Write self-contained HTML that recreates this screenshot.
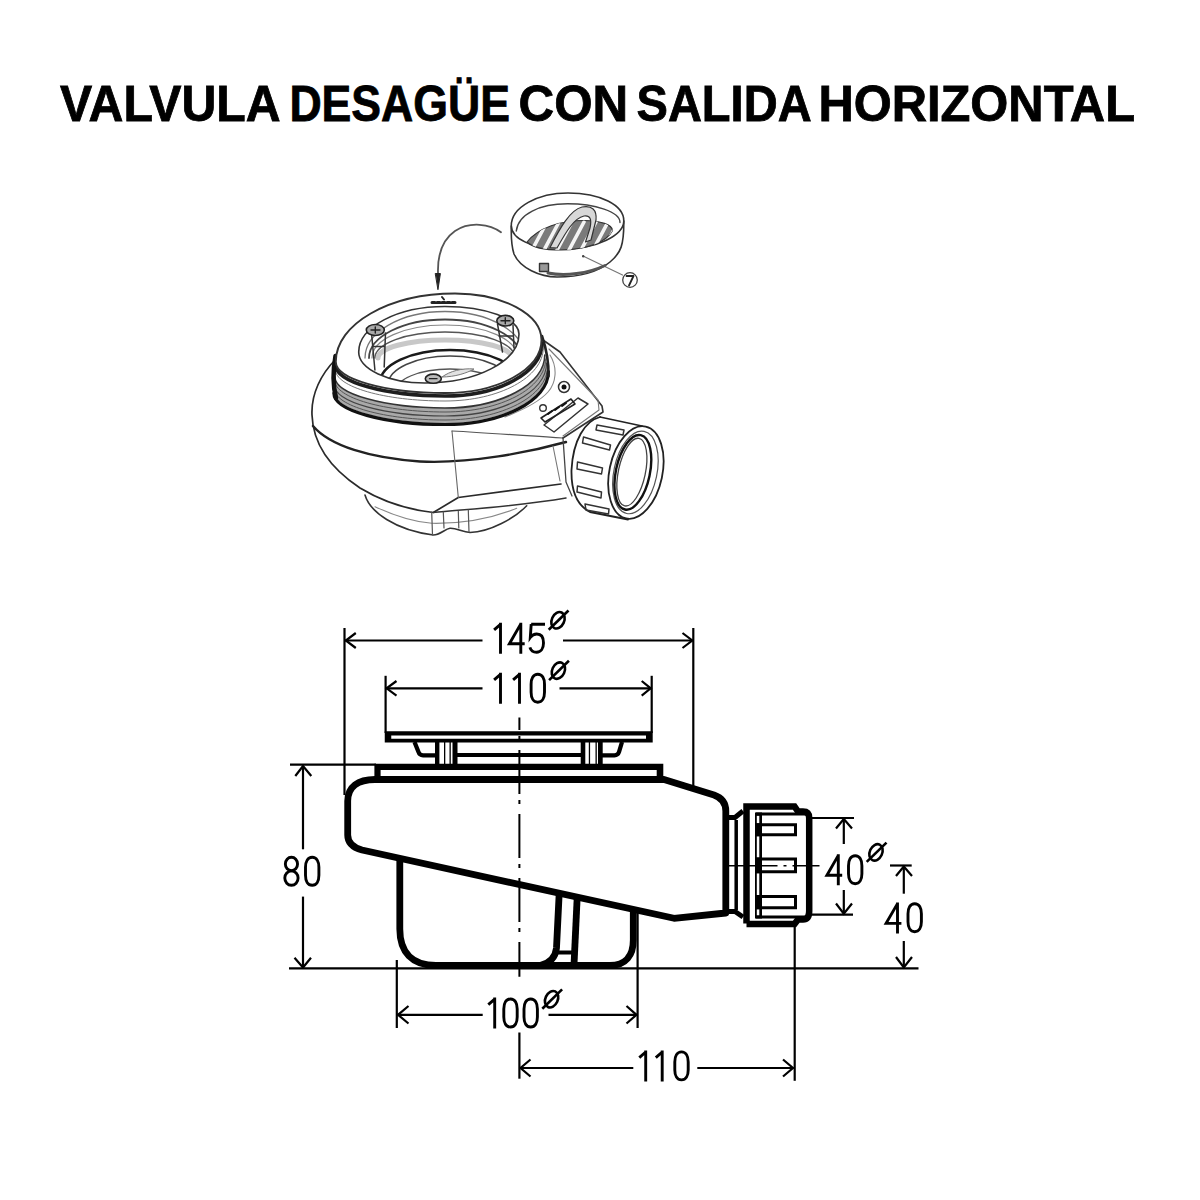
<!DOCTYPE html>
<html><head><meta charset="utf-8">
<style>
html,body{margin:0;padding:0;background:#fff;width:1200px;height:1200px;overflow:hidden}
svg{display:block}
.t{font-family:"Liberation Sans",sans-serif}
</style></head><body>
<svg width="1200" height="1200" viewBox="0 0 1200 1200">
<rect width="1200" height="1200" fill="#fff"/>
<!-- TITLE -->
<g class="t" font-size="49.5" font-weight="bold" fill="#000" stroke="#000" stroke-width="0.8">
<text x="60.00" y="120.8" textLength="220.6" lengthAdjust="spacingAndGlyphs">VALVULA</text>
<text x="289.40" y="120.8" textLength="220.6" lengthAdjust="spacingAndGlyphs">DESAGÜE</text>
<text x="518.50" y="120.8" textLength="109.7" lengthAdjust="spacingAndGlyphs">CON</text>
<text x="636.50" y="120.8" textLength="175.1" lengthAdjust="spacingAndGlyphs">SALIDA</text>
<text x="818.40" y="120.8" textLength="316.6" lengthAdjust="spacingAndGlyphs">HORIZONTAL</text>
</g>

<!-- TOP DRAWING -->
<g id="top" fill="none" stroke="#2a2a2a" stroke-width="1.5" stroke-linecap="round" stroke-linejoin="round">
 <!-- curved arrow -->
 <path d="M501,232.2 C490,224 470,221 455,231 C442,240 437.5,255 438,273" stroke="#555" stroke-width="1.8"/>
 <path d="M435.6,273.5 L440.4,273.5 L438,289.3 Z" fill="#222" stroke="#222" stroke-width="1"/>
 <!-- strainer cup -->
 <path d="M511.3,226 C511,207 538,193 568,193 C600,193 624,205 623.8,221 C623.6,235 598,249 562,249 C533,249 511.5,239 511.3,226 Z" stroke="#333" stroke-width="1.6"/>
 <path d="M516.3,231 C518,214 540,203.8 567.5,203.8 C595,203.8 620,212 620,222.5" stroke="#444" stroke-width="1.4"/>
 <path d="M511.3,226 C511,238 512,248 514,254 C520,268 540,277 557,277 C578,277 598,272 610,262 C621,253 624,245 623.8,221" stroke="#333" stroke-width="1.6"/>
 <!-- strainer bars -->
 <defs><clipPath id="grate"><path d="M527,242 C538,228 560,220.5 584,220.5 C601,220.5 612,225 612.5,230.5 C607,242 586,250 561,250 C545,250 532,247 527,242 Z"/></clipPath></defs>
 <path d="M527,242 C538,228 560,220.5 584,220.5 C601,220.5 612,225 612.5,230.5 C607,242 586,250 561,250 C545,250 532,247 527,242 Z" fill="#7a7a7a" stroke="#333" stroke-width="1.2"/>
 <g clip-path="url(#grate)" stroke="#f4f4f4" stroke-width="3.6">
  <path d="M531,252 L547,222"/><path d="M543,252 L559,222"/><path d="M556,252 L572,222"/><path d="M568,252 L584,222"/>
  <path d="M580,252 L596,222"/><path d="M592,252 L608,222"/><path d="M603,250 L617,224"/>
 </g>
 <path d="M549.9,247.7 C560,228 570,210 582,207 C592,205 597,210 596,220 L591,240 L585.5,242 L590,228 C592,219 590,215 584,216 C574,218 566,232 557,248 Z" fill="#d8d8d8" stroke="#333" stroke-width="1.2"/>
 <path d="M583,256 L622.5,275" stroke="#777" stroke-width="1.2"/>
 <circle cx="630" cy="280" r="7.3" stroke="#444" stroke-width="1.3"/>
 <path d="M626.5,276 H633.5 L629,285.5" stroke="#222" stroke-width="1.8"/>
 <rect x="539.5" y="263.5" width="9" height="8" fill="#999" stroke="#333" stroke-width="1.4"/>
 <path d="M548,273 C565,276.5 588,273.5 605,265.5" stroke="#555" stroke-width="3"/>
 <circle cx="583.2" cy="256.3" r="1.2" fill="#444" stroke="none"/>

 <!-- body silhouette -->
 <path d="M336,359 C321,374 311,394 312,415 C313,445 330,468 360,488 C385,503 410,510 433.3,512.5 L458.3,497.5 L561,484" stroke="#2a2a2a" stroke-width="1.7"/>
 <path d="M433.3,512.5 C470,509 520,506 566,498" stroke="#333" stroke-width="1.5"/>
 <!-- seam -->
 <path d="M313,426 C330,446 370,458 420,461.5 C470,464 530,452 566,442" stroke="#222" stroke-width="2.4"/>
 <!-- vertical seam & outlet lines -->
 <path d="M452,431 L458.3,497.5" stroke="#666" stroke-width="1.1"/>
 <path d="M452,431 C490,433 530,436 563,438" stroke="#555" stroke-width="1.2"/>
 <!-- sump -->
 <path d="M365,495 C370,512 395,530 433.3,535 C440,535 445,529 450,528.3 C457,528 462,532 470,532.5 C490,532 515,518 526.7,505.8" stroke="#333" stroke-width="1.6"/>
 <path d="M375,506.7 C395,516 415,522 431.7,523.3 C470,524 500,515 516.7,508.3" stroke="#888" stroke-width="1.1"/>
 <path d="M431.7,512 L432.5,535 M443.3,512 L444,528 M458.3,511 L458.8,528 M468.3,510 L469,532" stroke="#555" stroke-width="1.2"/>
 <!-- outlet top face -->
 <path d="M543,340 L560,352 L602,406 L603,412 L563,438" stroke="#333" stroke-width="1.6"/>
 <path d="M549,349 L598,400 L599,410 L563,436" stroke="#777" stroke-width="1.1"/>
 <path d="M550,355 C558,368 556,383 548,392 C540,401 528,408 505,417" stroke="#888" stroke-width="1.1"/>
 <!-- outlet neck -->
 <path d="M563,438 L566,482 L572,496" stroke="#444" stroke-width="1.3"/>
 <path d="M553,446 L560,481" stroke="#777" stroke-width="1.1"/>
 <!-- logo label -->
 <path d="M544,425 L554,432 L588,404 L578,398 Z" stroke="#333" stroke-width="1.5"/>
 <circle cx="543" cy="408" r="3.3" stroke="#333" stroke-width="1.4"/>
 <path d="M541,418 L571,399 L575,404 L545,422 Z" stroke="#222" stroke-width="1.6"/>
 <path d="M548,414 L552,411 M555,410 L559,407 M562,406 L566,403" stroke="#111" stroke-width="2"/>
 <circle cx="564" cy="387" r="5.5" stroke="#333" stroke-width="1.5"/>
 <circle cx="564" cy="387" r="2.5" fill="#111" stroke="none"/>

 <!-- threads below ring -->
 <path d="M334.0,392.7 C334.0,410.0 384.7,424.0 445.0,424.0 C501.9,424.0 548.3,400.3 548.3,371.0 L541.5,340.0 C541.5,369.3 498.3,393.0 445.0,393.0 C384.7,393.0 335.8,379.0 335.8,361.7 Z" fill="#fff" stroke="none"/>
 <path d="M334.0,391.7 C334.0,409.0 384.7,423.0 445.0,423.0 C501.8,423.0 548.1,399.3 548.1,370.0 L544.8,355.0 C544.8,384.3 500.1,408.0 445.0,408.0 C384.7,408.0 334.9,394.0 334.9,376.7 Z" fill="#a9a9a9" stroke="none"/>
 <g fill="none">
  <path d="M335.6,364.7 C335.6,382.0 384.7,396.0 445.0,396.0 C498.7,396.0 542.2,372.3 542.2,343.0 " stroke="#1e1e1e" stroke-width="3.6"/>
  <path d="M335.3,369.7 C335.3,387.0 384.7,401.0 445.0,401.0 C499.2,401.0 543.3,377.3 543.3,348.0 " stroke="#777" stroke-width="1"/>
  <path d="M334.9,376.7 C334.9,394.0 384.7,408.0 445.0,408.0 C500.1,408.0 544.8,384.3 544.8,355.0 " stroke="#333" stroke-width="1.6"/>
  <path d="M334.7,380.7 C334.7,398.0 384.7,412.0 445.0,412.0 C500.5,412.0 545.7,388.3 545.7,359.0 " stroke="#555" stroke-width="1"/>
  <path d="M334.4,384.7 C334.4,402.0 384.7,416.0 445.0,416.0 C501.0,416.0 546.6,392.3 546.6,363.0 " stroke="#444" stroke-width="1.2"/>
  <path d="M334.2,388.7 C334.2,406.0 384.7,420.0 445.0,420.0 C501.5,420.0 547.5,396.3 547.5,367.0 " stroke="#555" stroke-width="1"/>
  <path d="M333.9,393.2 C333.9,410.5 384.7,424.5 445.0,424.5 C502.0,424.5 548.4,400.8 548.4,371.5 " stroke="#111" stroke-width="3.2"/>
  <path d="M335.5,356 C333,370 333,386 336,398" stroke="#111" stroke-width="4.5"/>
  <path d="M542,336 C546,348 549,360 548.5,376" stroke="#222" stroke-width="2.6"/>
 </g>
 <!-- ring (flange) -->
 <defs><clipPath id="ringIn"><path d="M358.7,352 C358.7,326.9 397.3,306.5 445,306.5 C485.9,306.5 519,318.8 519,334 C519,361.1 476.9,383 425,383 C388.4,383 358.7,369.1 358.7,352 Z"/></clipPath></defs>
 <path d="M455,293.5 C502.8,293.5 541.5,314.3 541.5,340 C541.5,369.3 498.3,393 445,393 C384.7,393 335.8,379 335.8,361.7 C335.8,324 389.2,293.5 455,293.5 Z" fill="#fff" stroke="#333" stroke-width="1.9"/>
 <g clip-path="url(#ringIn)">
  <path d="M365,358 A80,46.5 0 0 1 525,358" stroke="#777" stroke-width="1.3"/>
  <path d="M369,358 A76,38.5 0 0 1 521,358" stroke="#444" stroke-width="1.8"/>
  <path d="M372,358 A73,33 0 0 1 518,358" stroke="#888" stroke-width="1.2"/>
  <path d="M375,358 A70,26 0 0 1 515,358" stroke="#555" stroke-width="1.5"/>
  <path d="M378,358 A67,18 0 0 1 512,358" stroke="#c8c8c8" stroke-width="5"/>
  <ellipse cx="450" cy="383" rx="70" ry="33" fill="#fff" stroke="#1a1a1a" stroke-width="2.6"/>
  <ellipse cx="450" cy="385" rx="62" ry="29" stroke="#444" stroke-width="1.4"/>
  <ellipse cx="450" cy="392" rx="55" ry="23" stroke="#555" stroke-width="1.3"/>
  <path d="M442,377 C450,371 462,368 474,369 C467,373 455,377 442,377 Z" fill="#e2e2e2" stroke="#777" stroke-width="1"/>
 </g>
 <path d="M358.7,352 C358.7,326.9 397.3,306.5 445,306.5 C485.9,306.5 519,318.8 519,334 C519,361.1 476.9,383 425,383 C388.4,383 358.7,369.1 358.7,352 Z" stroke="#333" stroke-width="1.6"/>
 <!-- screws -->
 <path d="M371.5,333 L374.9,370 M385.5,333 L384.2,367 M373,346.5 L385,346.5" stroke="#333" stroke-width="1.5"/>
 <ellipse cx="375.3" cy="330" rx="9" ry="5.5" fill="#aaa" stroke="#222" stroke-width="1.6"/><path d="M371,330 H380 M375.3,327 V333" stroke="#222" stroke-width="1.4"/>
 <path d="M497.5,324 L502.5,352 M513,325 L514,348 M499,336 L513,336" stroke="#333" stroke-width="1.5"/>
 <ellipse cx="505.3" cy="320.7" rx="8.5" ry="5.3" fill="#aaa" stroke="#222" stroke-width="1.6"/><path d="M501,320.7 H510 M505.3,317.7 V323.7" stroke="#222" stroke-width="1.4"/>
 <ellipse cx="433.3" cy="378.7" rx="8" ry="4.6" fill="#bbb" stroke="#222" stroke-width="1.6"/><path d="M429.5,378.7 H437" stroke="#222" stroke-width="1.3"/>
 <!-- marks -->
 <path d="M432,302.5 H455" stroke="#222" stroke-width="3" stroke-dasharray="3 2"/>
 <path d="M442,297 L444,299.5" stroke="#222" stroke-width="2"/>

 <!-- nut -->
 <path d="M600,417 C585,421 573,440 571.5,470 C571,492 578,506 590,512 L628,519.5" stroke="#222" stroke-width="1.8"/>
 <path d="M600,417 L642,426" stroke="#222" stroke-width="1.6"/>
 <g stroke="#333" stroke-width="1.5">
  <path d="M597,425 L624,430 L623,435 L596,430 Z"/>
  <path d="M583.5,437 L610.5,445 L609.5,450 L582.5,443 Z"/>
  <path d="M577.5,462 L602.5,468 L601.5,474 L577,469 Z"/>
  <path d="M577.5,486 L601.5,492 L601,498 L577,492 Z"/>
  <path d="M585,504 L609,509 L608.5,514 L586,510 Z"/>
 </g>
 <g transform="rotate(12 636 472)">
  <ellipse cx="636" cy="472.5" rx="26.5" ry="47" fill="#fff" stroke="#222" stroke-width="1.8"/>
  <ellipse cx="635.5" cy="472.5" rx="21.5" ry="42" stroke="#555" stroke-width="1.2"/>
  <ellipse cx="633" cy="473" rx="17" ry="38" stroke="#111" stroke-width="2.4"/>
  <ellipse cx="632" cy="473" rx="13.5" ry="34.5" stroke="#444" stroke-width="1.3"/>
 </g>
</g>

<!-- BOTTOM DRAWING -->
<g id="bottom">
 <!-- dimension lines thin -->
 <g stroke="#000" stroke-width="2.2" fill="none">
  <!-- 145 -->
  <line x1="344.5" y1="628" x2="344.5" y2="795"/>
  <line x1="693.3" y1="628" x2="693.3" y2="789"/>
  <line x1="345" y1="640.5" x2="482.5" y2="640.5"/>
  <line x1="563" y1="640.5" x2="692.5" y2="640.5"/>
  <polyline points="355.8,633 345.8,640.5 355.8,648"/>
  <polyline points="682.5,633 692.3,640.5 682.5,648"/>
  <!-- 110 -->
  <line x1="385.6" y1="675.8" x2="385.6" y2="733"/>
  <line x1="651.7" y1="675.8" x2="651.7" y2="733"/>
  <line x1="386" y1="688.3" x2="482.5" y2="688.3"/>
  <line x1="559.5" y1="688.3" x2="651" y2="688.3"/>
  <polyline points="396.5,681 386.6,688.3 396.5,695.6"/>
  <polyline points="641.7,681 650.7,688.3 641.7,695.6"/>
  <!-- 80 -->
  <line x1="290" y1="764.7" x2="376" y2="764.7"/>
  <line x1="303" y1="765.5" x2="303" y2="849.3"/>
  <line x1="303" y1="896.6" x2="303" y2="967.5"/>
  <polyline points="295.3,776 303,766 311.3,776"/>
  <polyline points="294.5,957.8 303,967.5 311,957.8"/>
  <line x1="289" y1="968.3" x2="918.5" y2="968.3"/>
  <!-- 100 -->
  <line x1="396.8" y1="960" x2="396.8" y2="1028"/>
  <line x1="637.6" y1="912" x2="637.6" y2="1028"/>
  <line x1="397.5" y1="1014.8" x2="482.7" y2="1014.8"/>
  <line x1="548.5" y1="1014.8" x2="636.8" y2="1014.8"/>
  <polyline points="408.5,1006 398,1014.8 408.5,1023.5"/>
  <polyline points="626.5,1006 636.5,1014.8 626.5,1023.5"/>
  <!-- 110 bottom -->
  <line x1="519.4" y1="1032.5" x2="519.4" y2="1078.7"/>
  <line x1="794.7" y1="925" x2="794.7" y2="1080.8"/>
  <line x1="520" y1="1068" x2="633.3" y2="1068"/>
  <line x1="697.3" y1="1068" x2="793.5" y2="1068"/>
  <polyline points="530.5,1059.5 520.5,1068 530.5,1076.5"/>
  <polyline points="783,1059.5 793,1068 783,1076.5"/>
  <!-- 40 diam -->
  <line x1="812" y1="818" x2="854" y2="818"/>
  <line x1="812" y1="914.7" x2="853" y2="914.7"/>
  <line x1="843.8" y1="819" x2="843.8" y2="844"/>
  <line x1="843.8" y1="890" x2="843.8" y2="913.7"/>
  <polyline points="836,828.5 843.8,819 852,828.5"/>
  <polyline points="836,903.5 843.8,913.7 852,903.5"/>
  <!-- 40 -->
  <line x1="890" y1="865.5" x2="911.7" y2="865.5"/>
  <line x1="903.8" y1="866.5" x2="903.8" y2="893.7"/>
  <line x1="903.8" y1="941" x2="903.8" y2="967.5"/>
  <polyline points="896,876 903.8,866.5 912,876"/>
  <polyline points="896,957 903.8,967.5 912,957"/>
 </g>
 <!-- centerline -->
 <g stroke="#000" stroke-width="2" fill="none">
  <line x1="519.4" y1="717.5" x2="519.4" y2="976.7" stroke-dasharray="44 6 4 10" stroke-dashoffset="31.5"/>
 </g>
 <!-- digits as stroked glyphs -->
 <defs>
  <g id="d1"><path d="M7.7,0 V31 M1.3,7.2 L7.7,1.6"/></g>
  <g id="d0"><path d="M8.2,1.5 C12.7,1.5 14.9,5.8 14.9,11.5 V19.5 C14.9,25.2 12.7,29.5 8.2,29.5 C3.7,29.5 1.5,25.2 1.5,19.5 V11.5 C1.5,5.8 3.7,1.5 8.2,1.5 Z"/></g>
  <g id="d4"><path d="M12.9,0 V31 M12.9,1.2 L1.5,21 H16.8" stroke-linejoin="miter"/></g>
  <g id="d5"><path d="M2.6,1.5 H16.4 M2.6,1.5 L1.7,14.8 C3.5,12.3 5.5,11.3 8.2,11.3 C12.6,11.3 14.9,14.8 14.9,20.2 C14.9,25.8 12.2,29.5 8,29.5 C4.6,29.5 2.2,27.6 1.3,24.6"/></g>
  <g id="d8"><ellipse cx="8.15" cy="8.2" rx="6.1" ry="6.7"/><ellipse cx="8.15" cy="22.3" rx="6.65" ry="7.2"/></g>
  <g id="dia"><ellipse rx="6.2" ry="8.6" transform="rotate(25)"/><path d="M-9.3,9.5 L10.5,-9.8"/></g>
 </defs>
 <g stroke="#000" stroke-width="2.9" fill="none">
  <!-- 145 -->
  <use href="#d1" x="492.8" y="622.7"/>
  <use href="#d4" x="507.9" y="622.7"/>
  <use href="#d5" x="528.6" y="622.7"/>
  <!-- 110 top -->
  <use href="#d1" x="492.8" y="672.7"/>
  <use href="#d1" x="511.8" y="672.7"/>
  <use href="#d0" x="529.6" y="672.7"/>
  <!-- 80 -->
  <use href="#d8" x="283.3" y="855.8"/>
  <use href="#d0" x="304" y="855.8"/>
  <!-- 40 dia -->
  <use href="#d4" x="825.4" y="854.2"/>
  <use href="#d0" x="847" y="854.2"/>
  <!-- 40 -->
  <use href="#d4" x="884.6" y="902.4"/>
  <use href="#d0" x="906.5" y="902.2"/>
  <!-- 100 -->
  <use href="#d1" x="487" y="997.5"/>
  <use href="#d0" x="502.3" y="997.5"/>
  <use href="#d0" x="522.5" y="997.5"/>
  <!-- 110 bottom -->
  <use href="#d1" x="638" y="1050.4"/>
  <use href="#d1" x="654.5" y="1050.4"/>
  <use href="#d0" x="673.3" y="1050.4"/>
 </g>
 <g stroke="#000" stroke-width="2.6" fill="none">
  <use href="#dia" x="558" y="620.3"/>
  <use href="#dia" x="558.4" y="670.6"/>
  <use href="#dia" x="876" y="852.4"/>
  <use href="#dia" x="551.6" y="999.2"/>
 </g>
 <!-- product outline -->
 <g fill="#000">
  <!-- grate plate -->
  <path fill-rule="evenodd" d="M384.75,731.25 H652.7 V742.5 H384.75 Z M391.25,735.6 H646 V738.75 H391.25 Z"/>
  <!-- posts left -->
  <rect x="435" y="742" width="4.4" height="22"/>
  <rect x="444" y="742" width="1.3" height="22"/>
  <rect x="449.5" y="742" width="1.3" height="22"/>
  <rect x="452.5" y="742" width="5" height="22"/>
  <!-- posts right -->
  <rect x="580.7" y="742" width="4.6" height="22"/>
  <rect x="588.8" y="742" width="1.3" height="22"/>
  <rect x="595.5" y="742" width="1.3" height="22"/>
  <rect x="598" y="742" width="4.7" height="22"/>
  <rect x="457" y="753" width="124" height="4"/>
  <!-- flange -->
  <path fill-rule="evenodd" d="M374.4,763.75 H663.3 V782.5 H374.4 Z M380.6,770 H656.7 V776.25 H380.6 Z"/>
 </g>
 <g stroke="#000" fill="none" stroke-linejoin="round">
  <path stroke-width="4.3" d="M414.5,742 L418.5,752 Q419.5,755.3 423,755.3 H436"/>
  <path stroke-width="4.3" d="M622,742 L619,752 Q618,755.3 614.5,755.3 H602"/>
  <!-- body -->
  <path stroke-width="6.8" d="M375,779.5 H664 L714,795 C721,797.5 725.8,802 725.8,811 V913 L674,918.3 L362,850 C353,847.5 347.7,843 347.7,835 V801 C347.7,787 358,779.5 375,779.5 Z"/>
  <!-- bowl -->
  <path stroke-width="6.8" d="M399.8,859 V929 C399.8,952 412,965.5 436,965.5 H610 C626,965.5 633.3,955 633.3,940 V912"/>
  <path stroke-width="6.8" d="M559.3,891 L556.5,948 Q555,962 540,965.5"/>
  <path stroke-width="6.8" d="M577.3,895 L574,965"/>
  <path stroke-width="4" d="M558,952.5 H575"/>
 </g>
 <!-- nut -->
 <g stroke="#000" fill="none">
  <path stroke-width="5" d="M725.8,817.5 H735 L743,811"/>
  <path stroke-width="5" d="M725.8,911.5 H735 L743,917"/>
  <line stroke-width="3.5" x1="736.2" y1="820" x2="736.2" y2="910"/>
  <path stroke-width="6.5" d="M746.5,923.5 V806.5 H794.5 L798,811.5 H803 Q809.2,811.5 809.2,818 V911 Q809.2,919.5 803,919.5 H798 L794.5,924 H746.5"/>
  <path stroke-width="3" d="M756,814 H807 M756,824.7 H795.5 V834.7 H756 M756,859 H795.5 V871.7 H756 M756,896.4 H795.5 V907.7 H756 M756,917 H807"/>
  </g>
 <g fill="#000"><path fill-rule="evenodd" d="M755,812.5 H762 V918.5 H755 Z M756.8,815.8 H759.3 V823.2 H756.8 Z M756.8,836.3 H759.3 V857.5 H756.8 Z M756.8,873.2 H759.3 V894.9 H756.8 Z M756.8,909.2 H759.3 V915.5 H756.8 Z"/>
 </g>
 <g stroke="#000" stroke-width="1.6">
  <line x1="725.8" y1="865.7" x2="819.5" y2="865.7" stroke-dasharray="51.7 6 3 6 100"/>
 </g>
</g>
</svg>
</body></html>
